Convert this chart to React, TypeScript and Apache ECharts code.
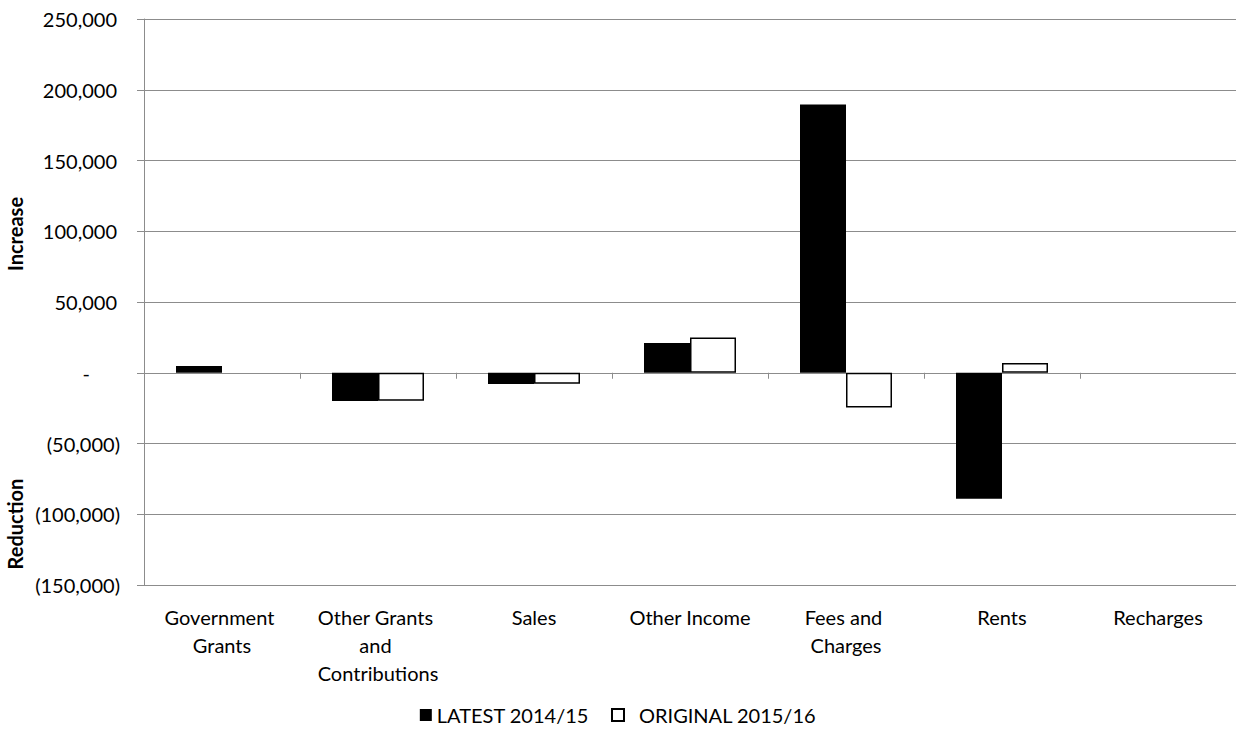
import React, { useEffect, useRef } from "react";
import * as echarts from "echarts";

const categories = [
  "Government Grants",
  "Other Grants and Contributions",
  "Sales",
  "Other Income",
  "Fees and Charges",
  "Rents",
  "Recharges",
];
const latest2014 = [4800, -20000, -8000, 21000, 189500, -89000, null];
const original2015 = [null, -19800, -7800, 25000, -24500, 6900, null];
const seriesNames = ["LATEST 2014/15", "ORIGINAL 2015/16"];
const yMin = -150000;
const yMax = 250000;
const yStep = 50000;

const FONT = "Lato";

function fmt(v: number): string {
  if (v === 0) return "{d|-}";
  const s = Math.abs(v).toLocaleString("en-US");
  return v < 0 ? "{n|(" + s + ")}" : "{p|" + s + "}";
}

export default function App() {
  const ref = useRef<HTMLDivElement>(null);
  useEffect(() => {
    document.body.style.margin = "0";
    const chart = echarts.init(ref.current!, null, { renderer: "svg" });
    const labelStyle = { fontFamily: FONT, fontSize: 20, color: "#000" };
    chart.setOption({
      animation: false,
      backgroundColor: "#fff",
      textStyle: { fontFamily: FONT },
      grid: { left: 144, right: 0, top: 19, bottom: 148, containLabel: false },
      legend: {
        data: [
          { name: seriesNames[0] },
          { name: seriesNames[1], textStyle: { ...labelStyle, padding: [0, 0, 0, 10] } },
        ],
        bottom: 3,
        left: "center",
        itemWidth: 12,
        itemHeight: 12,
        itemGap: 22,
        icon: "rect",
        textStyle: { ...labelStyle },
      },
      xAxis: [
        {
          type: "category",
          data: categories,
          position: "bottom",
          axisLine: { show: false, onZero: false },
          axisTick: { show: false },
          axisLabel: {
            interval: 0,
            margin: 18,
            ...labelStyle,
            lineHeight: 28,
            width: 150,
            overflow: "break",
          },
        },
        {
          type: "category",
          data: categories,
          position: "bottom",
          axisLine: { show: true, onZero: true, lineStyle: { color: "#8c8c8c", width: 1 } },
          axisTick: { show: true, length: 6, interval: 0, lineStyle: { color: "#8c8c8c" } },
          axisLabel: { show: false },
        },
      ],
      yAxis: {
        type: "value",
        min: yMin,
        max: yMax,
        interval: yStep,
        axisLine: { show: true, lineStyle: { color: "#8c8c8c", width: 1 } },
        axisTick: { show: true, length: 7, lineStyle: { color: "#8c8c8c" } },
        splitLine: { show: true, lineStyle: { color: "#8c8c8c", width: 1 } },
        axisLabel: {
          margin: 24,
          ...labelStyle,
          formatter: (v: number) => fmt(v),
          rich: {
            p: { ...labelStyle, padding: [0, 3, 0, 0] },
            n: { ...labelStyle },
            d: { ...labelStyle, padding: [0, 30, 0, 0] },
          },
        },
      },
      graphic: [
        {
          type: "text",
          x: 15,
          y: 234,
          rotation: Math.PI / 2,
          style: {
            text: "Increase",
            font: "bold 20px " + FONT,
            fill: "#000",
            textAlign: "center",
            textVerticalAlign: "middle",
          },
        },
        {
          type: "text",
          x: 15,
          y: 524,
          rotation: Math.PI / 2,
          style: {
            text: "Reduction",
            font: "bold 20px " + FONT,
            fill: "#000",
            textAlign: "center",
            textVerticalAlign: "middle",
          },
        },
      ],
      series: [
        {
          name: seriesNames[0],
          type: "bar",
          xAxisIndex: 0,
          data: latest2014,
          barWidth: 46,
          barGap: "0%",
          itemStyle: { color: "#000", borderColor: "#000", borderWidth: 0 },
        },
        {
          name: seriesNames[1],
          type: "bar",
          xAxisIndex: 0,
          data: original2015,
          barWidth: 46,
          barGap: "0%",
          itemStyle: { color: "#fff", borderColor: "#000", borderWidth: 1.5 },
        },
      ],
    });
    return () => chart.dispose();
  }, []);
  return <div ref={ref} style={{ width: 1236, height: 733 }} />;
}
